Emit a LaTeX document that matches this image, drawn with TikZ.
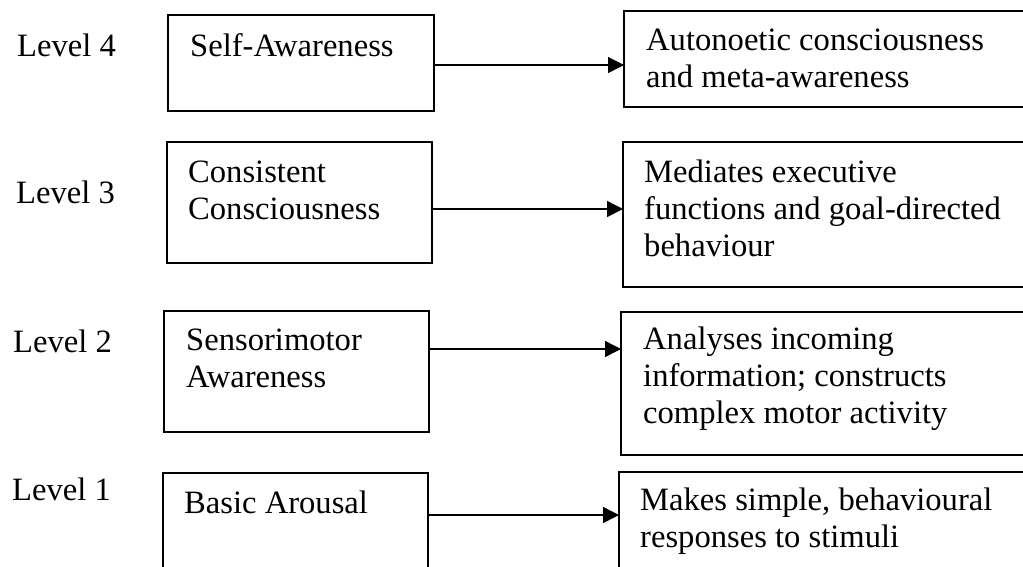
\documentclass[tikz,border=0pt]{standalone}
\usepackage{fontspec}
\setmainfont{Liberation Serif}
\usetikzlibrary{arrows.meta}
% several lines of text whose baseline is the first line's baseline
\newcommand{\stk}[1]{\begin{tabular}[t]{@{}l@{}}#1\end{tabular}}
\begin{document}
\begin{tikzpicture}[x=1pt,y=-1pt,
  box/.style={draw, line width=1.6pt, anchor=north west, inner sep=0pt, outer sep=0pt},
  txt/.style={anchor=base west, inner sep=0pt, font=\fontsize{32.6}{37}\selectfont},
  arr/.style={line width=1.4pt, -{Triangle[length=16pt,width=16pt]}}]
\useasboundingbox (0,0) rectangle (1023,566);
\clip (0,0) rectangle (1023,566);
\fill[white] (0,0) rectangle (1023,566);

% level labels
\node[txt] (lv4) at (17,56)  {Level 4};
\node[txt] (lv3) at (16,203) {Level 3};
\node[txt] (lv2) at (13,352) {Level 2};
\node[txt] (lv1) at (12,500) {Level 1};

% left column boxes
\node[box, minimum width=266pt, minimum height=96pt]  (L4) at (168,15)  {};
\node[box, minimum width=265pt, minimum height=121pt] (L3) at (167,142) {};
\node[box, minimum width=265pt, minimum height=121pt] (L2) at (164,311) {};
\node[box, minimum width=265pt, minimum height=130pt] (L1) at (163,473) {};

% right column boxes
\node[box, minimum width=430pt, minimum height=96pt]  (R4) at (624,11)  {};
\node[box, minimum width=430pt, minimum height=145pt] (R3) at (623,142) {};
\node[box, minimum width=430pt, minimum height=143pt] (R2) at (621,312) {};
\node[box, minimum width=430pt, minimum height=130pt] (R1) at (619,472) {};

% box texts
\node[txt] (t4) at (190,56)  {Self-Awareness};
\node[txt] (t3) at (188,182) {\stk{Consistent\\Consciousness}};
\node[txt] (t2) at (186,350) {\stk{Sensorimotor\\Awareness}};
\node[txt] (t1) at (184,513) {Basic Arousal};

\node[txt] (d4) at (646,50)  {\stk{Autonoetic consciousness\\and meta-awareness}};
\node[txt] (d3) at (644,182) {\stk{Mediates executive\\functions and goal-directed\\behaviour}};
\node[txt] (d2) at (643,349) {\stk{Analyses incoming\\information; constructs\\complex motor activity}};
\node[txt] (d1) at (640,510) {\stk{Makes simple, behavioural\\responses to stimuli}};

% connectors
\coordinate (y4) at (0,65);
\coordinate (y3) at (0,209);
\coordinate (y2) at (0,349);
\coordinate (y1) at (0,515);
\draw[arr] (L4.east |- y4) -- (R4.west |- y4);
\draw[arr] (L3.east |- y3) -- (R3.west |- y3);
\draw[arr] (L2.east |- y2) -- (R2.west |- y2);
\draw[arr] (L1.east |- y1) -- (R1.west |- y1);
\end{tikzpicture}
\end{document}
